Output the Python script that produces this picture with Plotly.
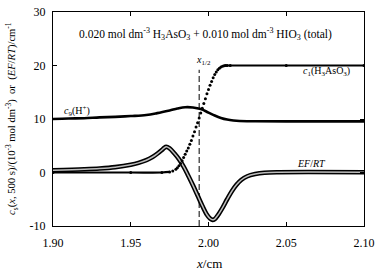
import plotly.graph_objects as go

# ---------------- data ----------------
# c9(H+) concentration profile / 10^-3 mol dm^-3
c9_x = [1.900, 1.910, 1.920, 1.930, 1.940, 1.950, 1.960, 1.967, 1.975, 1.980,
        1.985, 1.990, 1.995, 2.000, 2.004, 2.008, 2.012, 2.016, 2.020, 2.030,
        2.050, 2.100]
c9_y = [10.0, 10.1, 10.15, 10.3, 10.4, 10.55, 10.75, 11.1, 11.6, 11.95,
        12.2, 12.15, 11.85, 11.2, 10.65, 10.2, 9.9, 9.72, 9.62, 9.58,
        9.56, 9.55]

# c1(H3AsO3) concentration profile / 10^-3 mol dm^-3
c1_x = [1.900, 1.950, 1.970, 1.975, 1.977, 1.979, 1.980, 1.981, 1.982, 1.983,
        1.984, 1.985, 1.986, 1.987, 1.988, 1.989, 1.990, 1.991, 1.992, 1.993,
        1.994, 1.995, 1.996, 1.997, 1.998, 1.999, 2.000, 2.001, 2.002, 2.003,
        2.004, 2.005, 2.006, 2.007, 2.008, 2.009, 2.010, 2.011, 2.012, 2.014,
        2.050, 2.100]
c1_y = [0.0, 0.0, 0.0, 0.1, 0.3, 0.6, 0.9, 1.25, 1.7, 2.2,
        2.8, 3.4, 4.0, 4.6, 5.3, 6.0, 6.8, 7.6, 8.5, 9.3,
        10.2, 11.1, 12.0, 12.9, 13.8, 14.7, 15.5, 16.3, 17.0, 17.7,
        18.3, 18.8, 19.2, 19.5, 19.7, 19.85, 19.95, 20.0, 20.0, 20.0,
        20.0, 20.0]
c1_solid_left_end = 1.976   # flat parts drawn as a continuous line
c1_solid_right_start = 2.010

# EF/RT profile / cm^-1
ef_x = [1.900, 1.920, 1.930, 1.940, 1.950, 1.955, 1.960, 1.964, 1.967, 1.970,
        1.9715, 1.9728, 1.975, 1.978, 1.981, 1.984, 1.987, 1.990, 1.993, 1.996,
        1.999, 2.001, 2.0025, 2.004, 2.006, 2.009, 2.012, 2.015, 2.018, 2.021,
        2.025, 2.030, 2.036, 2.045, 2.100]
ef_y = [0.4, 0.6, 0.75, 1.0, 1.45, 1.8, 2.3, 2.9, 3.5, 4.2,
        4.6, 4.8, 4.5, 3.6, 2.5, 1.1, -0.6, -2.4, -4.3, -6.2,
        -7.9, -8.6, -8.85, -8.7, -8.0, -6.6, -5.0, -3.5, -2.3, -1.4,
        -0.7, -0.3, -0.05, 0.05, 0.05]

x_half = 1.994
x_half_line_top = 19.2

x_ticks = [1.90, 1.95, 2.00, 2.05, 2.10]
x_ticktext = ["1.90", "1.95", "2.00", "2.05", "2.10"]
y_ticks = [-10, 0, 10, 20, 30]
y_ticktext = ["-10", "0", "10", "20", "30"]
x_range = [1.90, 2.10]
y_range = [-10, 30]

FONT = "Liberation Serif, Times New Roman, serif"
TXT = dict(family=FONT, color="black")

fig = go.Figure()

# dashed x1/2 line
fig.add_trace(go.Scatter(x=[x_half, x_half], y=[y_range[0], x_half_line_top],
                         mode="lines", line=dict(color="black", width=1, dash="6px,3px"),
                         hoverinfo="skip", showlegend=False))

# c9(H+)
fig.add_trace(go.Scatter(x=c9_x, y=c9_y, mode="lines", line_shape="spline",
                         line=dict(color="black", width=2.6), showlegend=False))

# EF/RT as hollow "tube" of overlapping open circles
fig.add_trace(go.Scatter(x=ef_x, y=ef_y, mode="lines", line_shape="spline",
                         line=dict(color="black", width=4.6), showlegend=False))
fig.add_trace(go.Scatter(x=ef_x, y=ef_y, mode="lines", line_shape="spline",
                         line=dict(color="#bdbdbd", width=1.5), showlegend=False))

# c1(H3AsO3): dotted in the steep part, continuous in flat parts
left_pts = [(x, y) for x, y in zip(c1_x, c1_y) if x <= c1_solid_left_end]
right_pts = [(x, y) for x, y in zip(c1_x, c1_y) if x >= c1_solid_right_start]
for pts in (left_pts, right_pts):
    fig.add_trace(go.Scatter(x=[p[0] for p in pts], y=[p[1] for p in pts],
                             mode="lines", line_shape="spline",
                             line=dict(color="black", width=2.2), showlegend=False))
fig.add_trace(go.Scatter(x=c1_x, y=c1_y, mode="markers",
                         marker=dict(color="black", size=3, line=dict(width=0)),
                         showlegend=False))

anns = [
    dict(x=1.9978, y=25.8, xref="x", yref="y",
         text="0.020 mol dm<sup>-3</sup> H<sub>3</sub>AsO<sub>3</sub> + 0.010 mol dm<sup>-3</sup> HIO<sub>3</sub> (total)",
         font=dict(size=11.5, **TXT), xanchor="center", yanchor="middle", showarrow=False),
    dict(x=1.9055, y=11.5, xref="x", yref="y",
         text="<i>c</i><sub>9</sub>(H<sup>+</sup>)",
         font=dict(size=10, **TXT), xanchor="left", yanchor="middle", showarrow=False),
    dict(x=2.092, y=18.8, xref="x", yref="y",
         text="<i>c</i><sub>1</sub>(H<sub>3</sub>AsO<sub>3</sub>)",
         font=dict(size=10, **TXT), xanchor="right", yanchor="middle", showarrow=False),
    dict(x=2.0665, y=1.6, xref="x", yref="y",
         text="<i>EF</i>/<i>RT</i>",
         font=dict(size=10, **TXT), xanchor="center", yanchor="middle", showarrow=False),
    dict(x=1.9905, y=21.0, xref="x", yref="y",
         text="<i>x</i><sub>1/2</sub>",
         font=dict(size=10, **TXT), xanchor="left", yanchor="middle", showarrow=False),
    dict(x=0.5, y=-0.176, xref="paper", yref="paper",
         text="<i>x</i>/cm",
         font=dict(size=13, **TXT), xanchor="center", yanchor="middle", showarrow=False),
    dict(x=-0.132, y=0.505, xref="paper", yref="paper", textangle=-90,
         text="<i>c</i><sub>s</sub>(<i>x</i>, 500 s)/(10<sup>-3</sup> mol dm<sup>-3</sup>)  or  (<i>EF</i>/<i>RT</i>)/cm<sup>-1</sup>",
         font=dict(size=10.6, **TXT), xanchor="center", yanchor="middle", showarrow=False),
]

axis_common = dict(showgrid=False, zeroline=False, showline=True, linecolor="black",
                   linewidth=1, ticks="inside", ticklen=4, tickwidth=1, tickcolor="black",
                   mirror="ticks", ticklabeloverflow="allow",
                   tickfont=dict(size=12, **TXT))

fig.update_layout(
    width=380, height=270,
    margin=dict(l=53, r=10, t=5, b=44),
    paper_bgcolor="white", plot_bgcolor="white",
    font=dict(family=FONT, color="black"),
    xaxis=dict(range=x_range, tickvals=x_ticks, ticktext=x_ticktext,
               ticklabelstandoff=6, **axis_common),
    yaxis=dict(range=y_range, tickvals=y_ticks, ticktext=y_ticktext,
               ticklabelstandoff=4, **axis_common),
    annotations=anns,
    showlegend=False,
)

fig.write_html("out.html", config={"displayModeBar": False},
               post_script="document.body.style.margin='0';document.body.style.overflow='hidden';")
